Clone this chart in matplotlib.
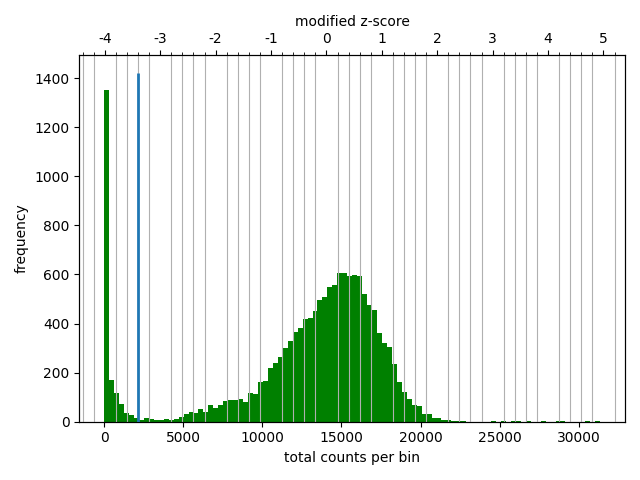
import numpy as np
import matplotlib
matplotlib.use("Agg")
import matplotlib.pyplot as plt
from matplotlib.ticker import MultipleLocator, FuncFormatter

# histogram of total counts per bin (100 bins from 0 to max)
max_counts = 31360
freq = [1350, 169, 117, 73, 36, 27, 15, 7, 15, 11,
        7, 7, 11, 7, 12, 20, 31, 39, 35, 51,
        39, 68, 57, 68, 84, 88, 88, 92, 80, 116,
        112, 161, 165, 218, 238, 263, 299, 328, 364, 380,
        417, 421, 450, 494, 510, 547, 559, 604, 604, 594,
        596, 592, 519, 474, 454, 360, 320, 303, 234, 161,
        121, 92, 68, 64, 31, 31, 15, 15, 7, 7,
        3, 3, 3, 0, 0, 0, 0, 0, 3, 0,
        3, 0, 3, 3, 0, 3, 0, 0, 3, 0,
        0, 3, 3, 0, 0, 0, 0, 3, 0, 3]

# threshold line
cut_x = 2125
cut_height = 1422

# modified z-score parameters
median = 14050
mad = 2363


def to_z(x):
    return 0.6745 * (np.asarray(x) - median) / mad


edges = np.linspace(0, max_counts, len(freq) + 1)
centers = (edges[:-1] + edges[1:]) / 2

fig, ax = plt.subplots(figsize=(6.4, 4.8), dpi=100)
ax.hist(centers, bins=edges, weights=freq, color='green')
ax.set_ylim(0, cut_height * 1.05)
ax.set_xlabel('total counts per bin')
ax.set_ylabel('frequency')

ax2 = ax.twiny()
lo, hi = ax.get_xlim()
ax2.set_xlim(to_z(lo), to_z(hi))
ax2.xaxis.set_major_locator(MultipleLocator(1))
ax2.xaxis.set_minor_locator(MultipleLocator(0.2))
ax2.xaxis.set_major_formatter(FuncFormatter(lambda v, p: '%d' % round(v)))
ax2.grid(which='minor')
ax2.set_xlabel('modified z-score')
# line drawn on the top axes so it sits over the grid
ax2.vlines(to_z(cut_x), 0, cut_height, color='tab:blue', linewidth=2, zorder=3)
ax.set_ylim(0, cut_height * 1.05)

fig.tight_layout()
fig.savefig('out.png')
